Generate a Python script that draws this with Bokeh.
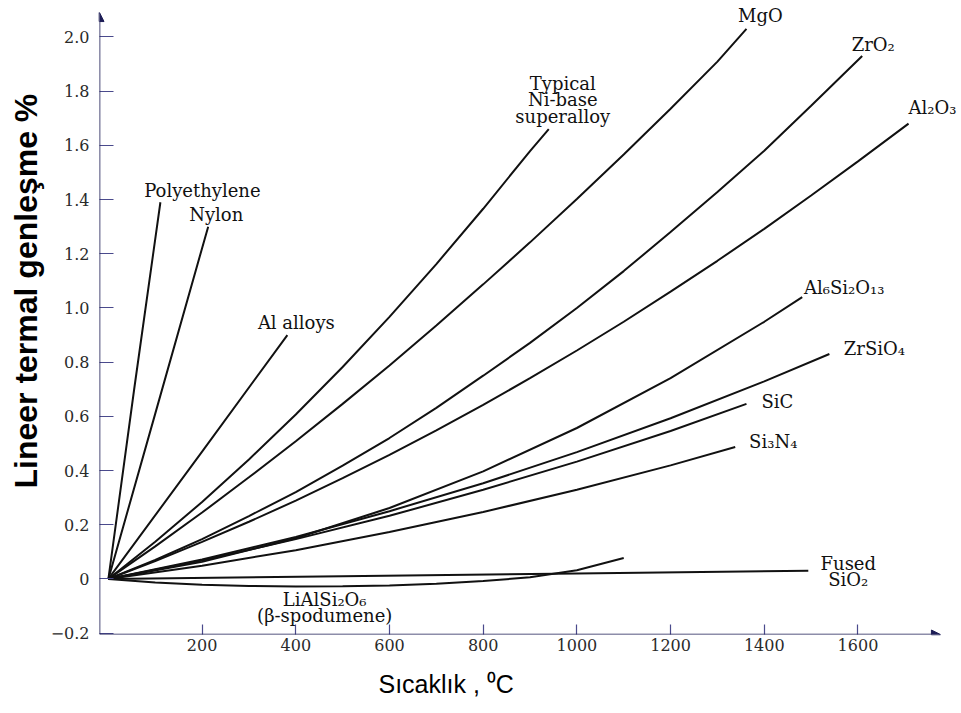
from bokeh.plotting import figure
from bokeh.models import (Range1d, FixedTicker, LabelSet, ColumnDataSource,
                          Arrow, NormalHead, Title)
from bokeh.core.properties import value
from bokeh.embed import file_html
from bokeh.resources import INLINE

# ---------------- data (temperature in °C, linear thermal expansion in %) -----------
polyethylene_T = [0, 55, 111]
polyethylene_E = [0.0, 0.70, 1.39]

nylon_T = [0, 100, 213]
nylon_E = [0.0, 0.61, 1.30]

al_alloys_T = [0, 200, 382]
al_alloys_E = [0.0, 0.47, 0.90]

ni_superalloy_T = [0, 100, 200, 300, 400, 500, 600, 700, 800, 900, 940]
ni_superalloy_E = [0.0, 0.137, 0.284, 0.441, 0.607, 0.782, 0.967, 1.162, 1.366, 1.579, 1.66]

mgo_T = [0, 100, 200, 300, 400, 500, 600, 700, 800, 900, 1000, 1100, 1200, 1300, 1362]
mgo_E = [0.0, 0.120, 0.245, 0.375, 0.508, 0.646, 0.788, 0.935, 1.087, 1.242, 1.402,
         1.566, 1.735, 1.909, 2.03]

zro2_T = [0, 100, 200, 300, 400, 500, 600, 700, 800, 900, 1000, 1100, 1200, 1300, 1400,
          1500, 1609]
zro2_E = [0.0, 0.070, 0.147, 0.232, 0.320, 0.418, 0.52, 0.631, 0.75, 0.871, 1.0, 1.136,
          1.28, 1.428, 1.58, 1.746, 1.93]

al2o3_T = [0, 100, 200, 300, 400, 500, 600, 700, 800, 900, 1000, 1100, 1200, 1300, 1400,
           1500, 1600, 1708]
al2o3_E = [0.0, 0.066, 0.137, 0.211, 0.289, 0.372, 0.458, 0.548, 0.642, 0.741, 0.843,
           0.949, 1.06, 1.174, 1.292, 1.415, 1.541, 1.68]

mullite_T = [0, 200, 400, 600, 800, 1000, 1200, 1400, 1481]
mullite_E = [0.0, 0.063, 0.15, 0.262, 0.397, 0.557, 0.741, 0.949, 1.04]

zrsio4_T = [0, 200, 400, 600, 800, 1000, 1200, 1400, 1539]
zrsio4_E = [0.0, 0.072, 0.155, 0.25, 0.353, 0.468, 0.593, 0.729, 0.83]

sic_T = [0, 200, 400, 600, 800, 1000, 1200, 1362]
sic_E = [0.0, 0.068, 0.147, 0.233, 0.329, 0.433, 0.546, 0.646]

si3n4_T = [0, 200, 400, 600, 800, 1000, 1200, 1338]
si3n4_E = [0.0, 0.049, 0.106, 0.173, 0.247, 0.329, 0.419, 0.487]

fused_sio2_T = [0, 500, 1000, 1494]
fused_sio2_E = [0.0, 0.01, 0.02, 0.03]

spodumene_T = [0, 100, 200, 300, 400, 500, 600, 700, 800, 900, 1000, 1100]
spodumene_E = [0.0, -0.013, -0.021, -0.026, -0.028, -0.027, -0.024, -0.018, -0.008,
               0.006, 0.032, 0.077]

x_ticks = [200, 400, 600, 800, 1000, 1200, 1400, 1600]
x_tick_labels = ["200", "400", "600", "800", "1000", "1200", "1400", "1600"]
y_ticks = [-0.2, 0, 0.2, 0.4, 0.6, 0.8, 1.0, 1.2, 1.4, 1.6, 1.8, 2.0]
y_tick_labels = ["\u22120.2", "0", "0.2", "0.4", "0.6", "0.8", "1.0", "1.2", "1.4",
                 "1.6", "1.8", "2.0"]

x_title = "Sıcaklık , \u2070C"
y_title = "Lineer termal genleşme %"

curves = {
    "polyethylene": (polyethylene_T, polyethylene_E),
    "nylon": (nylon_T, nylon_E),
    "al_alloys": (al_alloys_T, al_alloys_E),
    "ni": (ni_superalloy_T, ni_superalloy_E),
    "mgo": (mgo_T, mgo_E),
    "zro2": (zro2_T, zro2_E),
    "al2o3": (al2o3_T, al2o3_E),
    "mullite": (mullite_T, mullite_E),
    "zrsio4": (zrsio4_T, zrsio4_E),
    "sic": (sic_T, sic_E),
    "si3n4": (si3n4_T, si3n4_E),
    "fused": (fused_sio2_T, fused_sio2_E),
    "spodumene": (spodumene_T, spodumene_E),
}

# curve labels: (text, curve, pixel offset right, pixel offset up) from the curve's end
curve_labels = [
    ("Polyethylene", "polyethylene", 42, 12),
    ("Nylon", "nylon", 8, 12),
    ("Al alloys", "al_alloys", 9, 13),
    ("Typical", "ni", 14, 46),
    ("Ni-base", "ni", 14, 30),
    ("superalloy", "ni", 14, 13),
    ("MgO", "mgo", 14, 13),
    ("ZrO\u2082", "zro2", 11, 11),
    ("Al\u2082O\u2083", "al2o3", 24, 16),
    ("Al\u2086Si\u2082O\u2081\u2083", "mullite", 42, 10),
    ("ZrSiO\u2084", "zrsio4", 45, 6),
    ("SiC", "sic", 31, 2),
    ("Si\u2083N\u2084", "si3n4", 38, 5),
    ("Fused", "fused", 40, 7),
    ("SiO\u2082", "fused", 40, -9),
    ("LiAlSi\u2082O\u2086", "spodumene", -299, -41),
    ("(\u03b2-spodumene)", "spodumene", -299, -57),
]

# ---------------- figure ----------------
X_START, X_END = -19, 1821
Y_START, Y_END = -0.205, 2.1345
X_ARROW_END, Y_ARROW_END = 1776, 2.09   # where the drawn axis arrows stop

p = figure(width=961, height=713, output_backend="svg", toolbar_location=None,
           x_range=Range1d(X_START, X_END), y_range=Range1d(Y_START, Y_END),
           min_border_left=99, min_border_right=0, min_border_top=0,
           min_border_bottom=79)
p.grid.visible = False
p.outline_line_color = None
p.background_fill_color = "white"
p.border_fill_color = "white"

axis_col = "#1c1c55"
tick_col = "#4a4a8c"
for ax in (p.xaxis, p.yaxis):
    ax.axis_line_color = None
    ax.major_tick_line_color = tick_col
    ax.major_tick_line_width = 1.2
    ax.major_tick_out = 0
    ax.minor_tick_in = 0
    ax.minor_tick_out = 0
    ax.major_label_text_font = "DejaVu Serif"
    ax.major_label_text_font_size = "16px"
    ax.major_label_text_color = "#2a2a2a"

p.xaxis.ticker = FixedTicker(ticks=x_ticks)
p.xaxis.major_label_overrides = dict(zip(x_ticks, x_tick_labels))
p.xaxis.major_tick_in = 10
p.xaxis.major_label_standoff = 4

p.yaxis.ticker = FixedTicker(ticks=y_ticks)
p.yaxis.major_label_overrides = dict(zip(y_ticks, y_tick_labels))
p.yaxis.major_tick_in = 14
p.yaxis.major_label_standoff = 10

# axis lines with arrowheads
p.add_layout(Arrow(end=NormalHead(size=9, fill_color=axis_col, line_color=axis_col),
                   x_start=X_START, y_start=Y_START, x_end=X_START, y_end=Y_ARROW_END,
                   line_color=axis_col, line_width=1.6))
p.add_layout(Arrow(end=NormalHead(size=9, fill_color=axis_col, line_color=axis_col),
                   x_start=X_START, y_start=Y_START, x_end=X_ARROW_END, y_end=Y_START,
                   line_color=axis_col, line_width=1.6))

# curves
for name, (T, E) in curves.items():
    p.line(T, E, line_color="#111111", line_width=2)

# curve labels
src = ColumnDataSource(dict(
    text=[c[0] for c in curve_labels],
    x=[curves[c[1]][0][-1] for c in curve_labels],
    y=[curves[c[1]][1][-1] for c in curve_labels],
    dx=[c[2] for c in curve_labels],
    dy=[c[3] for c in curve_labels],
))
p.add_layout(LabelSet(x="x", y="y", text="text", x_offset="dx", y_offset="dy", source=src,
                      text_font=value("DejaVu Serif"), text_font_size="18px",
                      text_color="#111111", text_align="center",
                      text_baseline="middle"))

# axis titles
p.add_layout(Title(text=x_title, align="left", offset=279, standoff=29,
                   text_font="Liberation Sans", text_font_size="25px",
                   text_font_style="normal", text_color="#000000"), "below")
p.add_layout(Title(text=y_title, align="left", offset=146, standoff=7,
                   text_font="Liberation Sans", text_font_size="32px",
                   text_font_style="bold", text_color="#000000"), "left")

open("out.html", "w").write(file_html(p, INLINE))
